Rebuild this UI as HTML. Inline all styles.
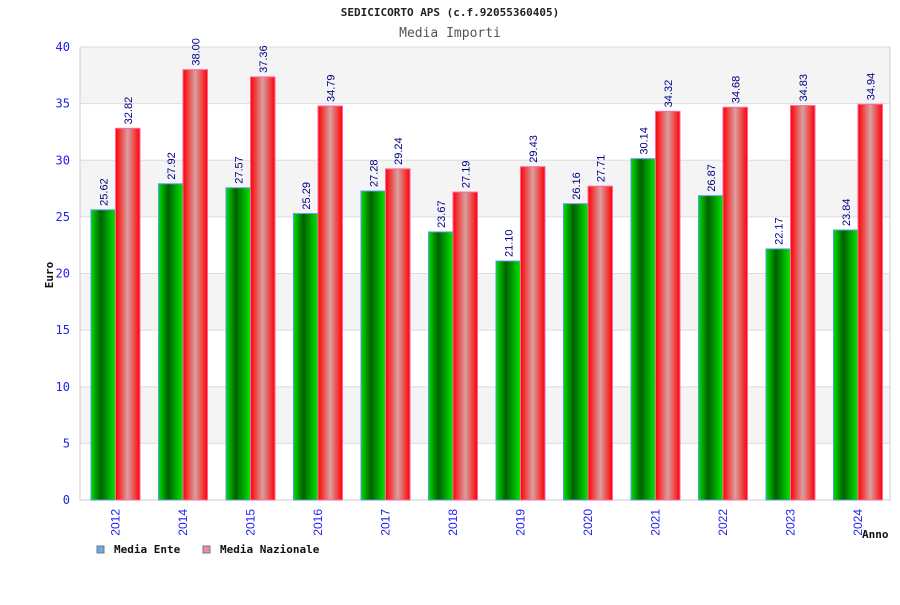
<!DOCTYPE html>
<html><head><meta charset="utf-8"><style>
body{margin:0;background:#fff;}
svg text{font-family:"DejaVu Sans Mono","Liberation Mono",monospace;}
</style></head><body>
<svg id="chart" width="900" height="600" viewBox="0 0 900 600">
<defs>
<linearGradient id="gG" x1="0" x2="1" y1="0" y2="0"><stop offset="0" stop-color="#00e000"/><stop offset="0.4" stop-color="#006000"/><stop offset="1" stop-color="#00e800"/></linearGradient>
<linearGradient id="gR" x1="0" x2="1" y1="0" y2="0"><stop offset="0" stop-color="#ff0000"/><stop offset="0.5" stop-color="#d8a0a0"/><stop offset="1" stop-color="#ff0000"/></linearGradient>
</defs>
<text x="450" y="16" text-anchor="middle" font-size="11" font-weight="bold" fill="#222">SEDICICORTO APS (c.f.92055360405)</text>
<text x="450" y="37" text-anchor="middle" font-size="13" fill="#555">Media Importi</text>
<g id="grid"></g>
<g id="bars"></g>
<text transform="translate(53,275) rotate(-90)" text-anchor="middle" font-size="11" font-weight="bold" fill="#111">Euro</text>
<text x="862" y="538" font-size="11" font-weight="bold" fill="#111">Anno</text>
<g>
<rect x="97" y="546" width="7" height="7" fill="#66aaee" stroke="#777"/>
<text x="114" y="553" font-size="11" font-weight="bold" fill="#111">Media Ente</text>
<rect x="203" y="546" width="7" height="7" fill="#ee88bb" stroke="#777"/>
<text x="220" y="553" font-size="11" font-weight="bold" fill="#111">Media Nazionale</text>
</g>
</svg>
<script>
const categories=["2012","2014","2015","2016","2017","2018","2019","2020","2021","2022","2023","2024"];
const enteValues=[25.62,27.92,27.57,25.29,27.28,23.67,21.10,26.16,30.14,26.87,22.17,23.84];
const nazValues=[32.82,38.00,37.36,34.79,29.24,27.19,29.43,27.71,34.32,34.68,34.83,34.94];
const yTicks=[0,5,10,15,20,25,30,35,40];
const NS="http://www.w3.org/2000/svg";
const L=80,R=890,T=47,B=500,yMax=40;
const y=v=>B-(v/yMax)*(B-T);
const band=(R-L)/categories.length;
const x=i=>L+i*band;
function el(t,a,p){const e=document.createElementNS(NS,t);for(const k in a)e.setAttribute(k,a[k]);p.appendChild(e);return e;}
const grid=document.getElementById('grid'),bars=document.getElementById('bars');
for(let i=0;i<yTicks.length-1;i++){
  const r=el('rect',{x:L,y:y(yTicks[i+1]),width:R-L,height:y(yTicks[i])-y(yTicks[i+1]),fill:(i%2==1)?'#f4f4f4':'#ffffff'},grid);
  
  
}
yTicks.forEach(t=>{
  const l=el('line',{x1:L,x2:R,y1:y(t),y2:y(t),stroke:'#dddddd'},grid);
  
  
  const tx=el('text',{x:70,y:y(t)+4,'text-anchor':'end','font-size':12,fill:'#2222ee'},grid);
  tx.textContent=t;
  
  
});
const ax=el('path',{d:`M${L},${T}V${B}H${R}V${T}`,fill:'none',stroke:'#cccccc'},grid);


const bw=24.5;
categories.forEach((c,i)=>{
  const gx=x(i)+11;
  [[enteValues[i],'url(#gG)','#5599ee',gx,'bar-ente-'],[nazValues[i],'url(#gR)','#ff66aa',gx+bw,'bar-nazionale-']].forEach(([v,f,s,bx,n])=>{
    const r=el('rect',{x:bx,y:y(v),width:bw,height:B-y(v),fill:f,stroke:s,'stroke-width':1},bars);
    
    
    const t=el('text',{transform:`translate(${bx+bw/2+4},${y(v)-4}) rotate(-90)`,'font-size':11,fill:'#000088','font-family':'Liberation Sans, sans-serif'},bars);
    t.setAttribute('style','font-family:"Liberation Sans",sans-serif');
    t.textContent=v.toFixed(2);
    
    
  });
  const xl=el('text',{transform:`translate(${gx+bw+4},509) rotate(-90)`,'text-anchor':'end','font-size':12,fill:'#2222ee'},bars);
  xl.setAttribute('style','font-family:"Liberation Sans",sans-serif');
  xl.textContent=c;
  
  
});
</script>
</body></html>
